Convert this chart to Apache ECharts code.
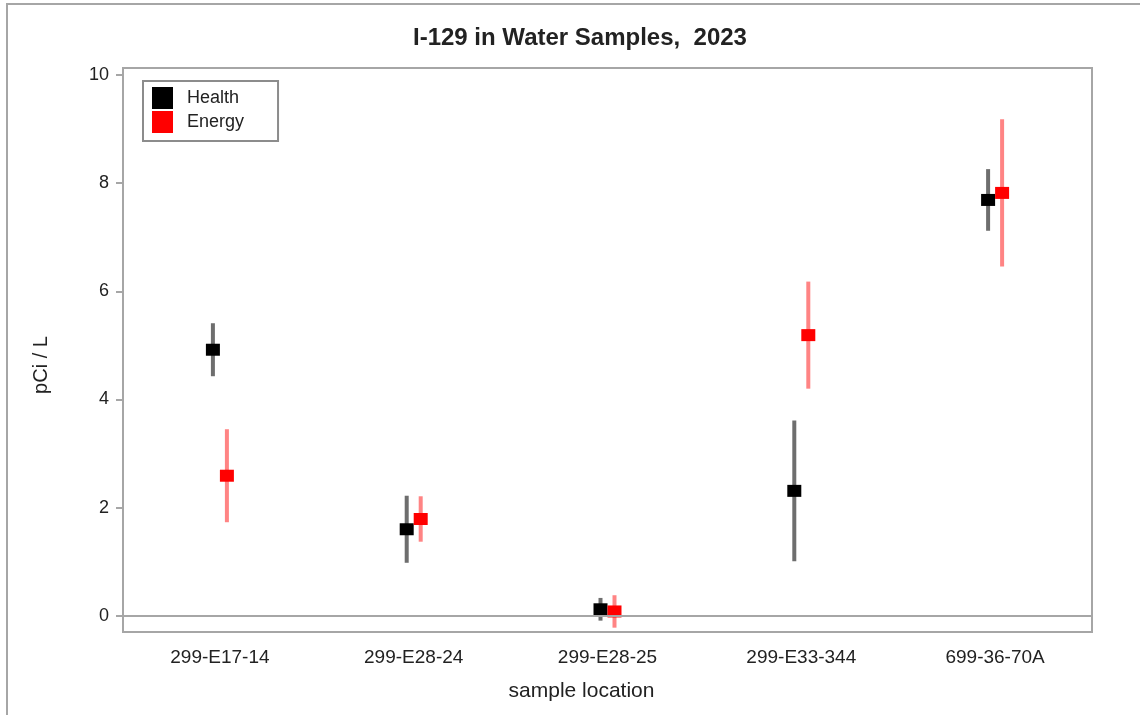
<!DOCTYPE html>
<html><head><meta charset="utf-8">
<script src="https://cdn.jsdelivr.net/npm/echarts@6/dist/echarts.min.js"></script>
<style>html,body{margin:0;padding:0;background:#fff}#c{width:1140px;height:715px}</style>
</head><body><div id="c"></div>
<script>
const categories = ['299-E17-14','299-E28-24','299-E28-25','299-E33-344','699-36-70A'];
const healthValues = [4.92, 1.60, 0.12, 2.31, 7.69];
const healthErrors = [0.49, 0.62, 0.21, 1.30, 0.57];
const energyValues = [2.59, 1.79, 0.08, 5.19, 7.82];
const energyErrors = [0.86, 0.42, 0.30, 0.99, 1.36];
const yTicks = [0, 2, 4, 6, 8, 10];

const FONT = '"Liberation Sans", Arial, sans-serif';

function makeRender(markerColor, barColor, dx) {
  return function (params, api) {
    const i = api.value(0);
    const v = api.value(1);
    const e = api.value(2);
    const c = api.coord([i, v]);
    const hi = api.coord([i, v + e]);
    const lo = api.coord([i, v - e]);
    const x = c[0] + dx;
    return {
      type: 'group',
      children: [
        { type: 'line', shape: { x1: x, y1: hi[1], x2: x, y2: lo[1] },
          style: { stroke: barColor, lineWidth: 4 } },
        { type: 'rect', shape: { x: x - 7, y: c[1] - 6, width: 14, height: 12 },
          style: { fill: markerColor } }
      ]
    };
  };
}

const chart = echarts.init(document.getElementById('c'));
chart.setOption({
  animation: false,
  backgroundColor: '#fff',
  title: {
    text: 'I-129 in Water Samples,  2023',
    left: 408, top: 21,
    textStyle: { fontFamily: FONT, fontSize: 24, fontWeight: 'bold', color: '#222' }
  },
  legend: {
    orient: 'vertical', left: 143, top: 81,
    padding: [6, 34, 8, 9],
    itemWidth: 21, itemHeight: 22, itemGap: 2,
    borderColor: '#8c8c8c', borderWidth: 2,
    icon: 'rect',
    textStyle: { fontFamily: FONT, fontSize: 18, color: '#222', padding: [0, 0, 0, 9] },
    data: ['Health', 'Energy']
  },
  grid: { left: 123, right: 48, top: 68, bottom: 83, show: true, borderColor: '#a6a6a6', borderWidth: 2 },
  xAxis: {
    type: 'category', data: categories, boundaryGap: true,
    name: 'sample location', nameLocation: 'middle', nameGap: 49,
    nameTextStyle: { fontFamily: FONT, fontSize: 21, color: '#222', padding: [0, 52, 0, 0] },
    axisLine: { lineStyle: { color: '#a6a6a6', width: 2 } },
    axisTick: { alignWithLabel: true, length: 7, lineStyle: { color: '#a6a6a6', width: 2 } },
    axisLabel: { fontFamily: FONT, fontSize: 19, color: '#222', margin: 16 },
    splitLine: { show: false }
  },
  yAxis: {
    type: 'value', min: -0.3, max: 10.13,
    name: 'pCi / L', nameLocation: 'middle', nameGap: 72, nameRotate: 90,
    nameTextStyle: { fontFamily: FONT, fontSize: 20, color: '#222', padding: [0, 30, 0, 0] },
    axisLine: { show: true, lineStyle: { color: '#a6a6a6', width: 2 } },
    axisTick: { show: true, length: 7, customValues: yTicks, lineStyle: { color: '#a6a6a6', width: 2 } },
    axisLabel: { fontFamily: FONT, fontSize: 18, color: '#222', margin: 14, customValues: yTicks },
    splitLine: { show: false }
  },
  graphic: [
    { type: 'rect', shape: { x: 7, y: 4, width: 1200, height: 800 },
      style: { fill: 'none', stroke: '#a6a6a6', lineWidth: 2 }, silent: true }
  ],
  series: [
    {
      name: 'Health', type: 'custom',
      itemStyle: { color: '#000' },
      renderItem: makeRender('#000', '#6e6e6e', -7),
      data: categories.map((c, i) => [i, healthValues[i], healthErrors[i]]),
      encode: { x: 0, y: 1 },
      markLine: {
        silent: true, symbol: 'none', label: { show: false },
        lineStyle: { color: '#a6a6a6', width: 2, type: 'solid' },
        data: [{ yAxis: 0 }]
      },
      z: 3
    },
    {
      name: 'Energy', type: 'custom',
      itemStyle: { color: '#ff0000' },
      renderItem: makeRender('#ff0000', '#ff8484', 7),
      data: categories.map((c, i) => [i, energyValues[i], energyErrors[i]]),
      encode: { x: 0, y: 1 },
      z: 4
    }
  ]
});
</script>
</body></html>
